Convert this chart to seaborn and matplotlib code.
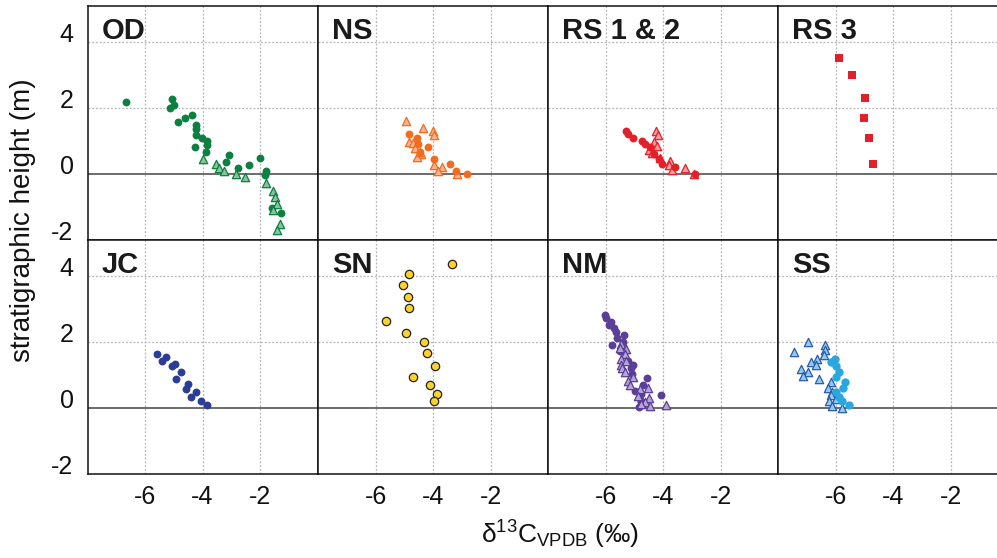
import matplotlib
matplotlib.use("Agg")
import matplotlib.pyplot as plt
import seaborn as sns
import pandas as pd

sns.set_style("white")
plt.rcParams['font.family'] = ['Liberation Sans', 'DejaVu Sans']
plt.rcParams['mathtext.fontset'] = 'custom'
plt.rcParams['mathtext.rm'] = 'Liberation Sans'
plt.rcParams['mathtext.it'] = 'Liberation Sans:italic'
plt.rcParams['mathtext.bf'] = 'Liberation Sans:bold'

# ---------------- data (delta13C, stratigraphic height) ----------------
OD_circ_x = [-6.65, -5.05, -4.99, -5.12, -4.38, -4.61, -4.86, -4.23, -4.24, -4.24, -4.03, -3.86,
             -3.86, -3.88, -4.27, -3.08, -3.20, -2.77, -2.40, -1.99, -1.80, -1.82, -1.27, -1.58]
OD_circ_y = [2.19, 2.29, 2.09, 1.99, 1.80, 1.69, 1.58, 1.48, 1.36, 1.19, 1.10, 1.00,
             0.88, 0.68, 0.83, 0.59, 0.38, 0.18, 0.28, 0.49, 0.09, -0.02, -1.17, -1.02]
OD_tri_x = [-3.98, -3.54, -3.43, -3.24, -2.83, -2.53, -1.78, -1.55, -1.49, -1.42, -1.55, -1.29, -1.41]
OD_tri_y = [0.45, 0.30, 0.19, 0.09, 0.01, -0.09, -0.28, -0.51, -0.69, -0.90, -1.10, -1.50, -1.71]

NS_circ_x = [-4.83, -4.54, -4.52, -4.19, -4.46, -3.96, -3.40, -3.20, -2.82]
NS_circ_y = [1.21, 1.11, 0.91, 0.81, 0.68, 0.45, 0.30, 0.10, 0.00]
NS_tri_x = [-4.94, -4.34, -3.99, -3.98, -4.83, -4.69, -4.42, -4.54, -3.97, -3.70, -3.84, -3.18, -4.63, -4.45]
NS_tri_y = [1.61, 1.41, 1.31, 1.19, 0.98, 0.93, 0.61, 0.51, 0.29, 0.22, 0.09, 0.00, 0.78, 0.66]

RS12_circ_x = [-5.29, -5.21, -5.06, -4.72, -4.61, -4.46, -4.30, -4.14, -4.03, -3.59, -2.87]
RS12_circ_y = [1.31, 1.21, 1.11, 1.00, 0.91, 0.81, 0.61, 0.46, 0.32, 0.20, 0.00]
RS12_tri_x = [-4.26, -4.17, -4.31, -4.20, -4.49, -4.38, -4.11, -3.75, -3.80, -3.67, -3.24, -2.91]
RS12_tri_y = [1.31, 1.19, 0.98, 0.86, 0.73, 0.63, 0.48, 0.40, 0.27, 0.12, 0.19, 0.01]

RS3_sq_x = [-5.87, -5.44, -4.98, -5.01, -4.84, -4.69]
RS3_sq_y = [3.51, 3.02, 2.31, 1.71, 1.10, 0.30]

JC_circ_x = [-5.58, -5.26, -5.40, -4.97, -5.05, -4.74, -4.92, -4.50, -4.56, -4.24, -4.40, -4.06, -3.85]
JC_circ_y = [1.64, 1.54, 1.43, 1.33, 1.28, 1.08, 0.88, 0.73, 0.59, 0.50, 0.34, 0.23, 0.08]

SN_circ_x = [-3.35, -4.83, -5.04, -4.88, -4.83, -5.62, -4.94, -4.30, -4.20, -3.93, -4.70, -4.10, -3.87, -3.95]
SN_circ_y = [4.37, 4.06, 3.72, 3.38, 3.03, 2.63, 2.29, 1.99, 1.68, 1.29, 0.93, 0.69, 0.44, 0.20]

NM_circ_x = [-6.02, -5.99, -5.81, -5.87, -5.70, -5.62, -5.36, -5.59, -5.39, -5.79, -5.50, -5.23,
             -5.04, -5.13, -5.07, -4.56, -4.68, -4.98, -4.75, -4.08, -4.75, -4.83, -4.77]
NM_circ_y = [2.81, 2.72, 2.62, 2.52, 2.42, 2.32, 2.22, 2.12, 2.02, 1.92, 1.72, 1.44,
             1.32, 1.21, 1.03, 0.91, 0.71, 0.53, 0.42, 0.41, 0.22, 0.02, 0.17]
NM_tri_x = [-5.47, -5.27, -5.50, -5.33, -5.45, -5.27, -5.47, -5.42, -5.33, -5.04, -5.21, -5.15,
            -4.80, -4.52, -4.86, -4.49, -4.63, -4.46, -3.91, -4.75]
NM_tri_y = [1.94, 1.79, 1.81, 1.64, 1.49, 1.44, 1.31, 1.21, 1.08, 0.93, 0.83, 0.71,
            0.58, 0.61, 0.37, 0.30, 0.17, 0.07, 0.10, 0.12]

SS_circ_x = [-6.02, -6.14, -5.99, -5.88, -5.97, -5.66, -5.74, -5.97, -5.88, -5.79, -5.54]
SS_circ_y = [1.50, 1.40, 1.27, 1.09, 0.95, 0.78, 0.60, 0.48, 0.35, 0.20, 0.10]
SS_tri_x = [-7.46, -6.95, -6.35, -6.35, -6.39, -6.63, -6.84, -6.68, -7.20, -6.95, -7.13, -6.58,
            -6.14, -6.26, -6.12, -6.16, -5.97, -6.23, -6.12, -5.79]
SS_tri_y = [1.69, 1.99, 1.90, 1.77, 1.60, 1.50, 1.40, 1.30, 1.19, 1.09, 0.98, 0.88,
            0.80, 0.60, 0.50, 0.40, 0.29, 0.20, 0.07, -0.01]

panel_names = ["OD", "NS", "RS 1 & 2", "RS 3", "JC", "SN", "NM", "SS"]
x_ticks = [-6, -4, -2]
y_ticks = [-2, 0, 2, 4]

# ---------------- styles ----------------
GREEN, ORANGE, RED = "#0b8040", "#f26b21", "#e3202a"
NAVY, YELLOW, PURPLE, LBLUE = "#2b3d96", "#fbd22c", "#5a3e97", "#2aa7df"

# each layer: (x, y, marker, size, face, edge, lw)
layers = {
    "OD": [(OD_circ_x, OD_circ_y, "o", 32, GREEN, GREEN, 0),
           (OD_tri_x, OD_tri_y, "^", 36, "#86c29c", GREEN, 0.9)],
    "NS": [(NS_tri_x, NS_tri_y, "^", 36, "#f9b48f", ORANGE, 0.9),
           (NS_circ_x, NS_circ_y, "o", 32, ORANGE, ORANGE, 0)],
    "RS 1 & 2": [(RS12_tri_x, RS12_tri_y, "^", 36, "#f29a9c", RED, 0.9),
                 (RS12_circ_x, RS12_circ_y, "o", 32, RED, RED, 0)],
    "RS 3": [(RS3_sq_x, RS3_sq_y, "s", 32, RED, RED, 0)],
    "JC": [(JC_circ_x, JC_circ_y, "o", 32, NAVY, NAVY, 0)],
    "SN": [(SN_circ_x, SN_circ_y, "o", 36, YELLOW, "#222222", 0.9)],
    "NM": [(NM_circ_x, NM_circ_y, "o", 32, PURPLE, PURPLE, 0),
           (NM_tri_x, NM_tri_y, "^", 36, "#b4a6d4", PURPLE, 0.9)],
    "SS": [(SS_tri_x, SS_tri_y, "^", 36, "#8ecbef", "#2c5aa8", 0.9),
           (SS_circ_x, SS_circ_y, "o", 36, LBLUE, LBLUE, 0)],
}

# ---------------- figure ----------------
W, H = 997, 558
fig = plt.figure(figsize=(W / 100, H / 100), dpi=100)

col_left = [87.5, 318, 548, 778]
row_top = [6, 240]
pw, ph = 230, 234

for i, name in enumerate(panel_names):
    r, c = divmod(i, 4)
    l = col_left[c]
    t = row_top[r]
    ax = fig.add_axes([l / W, (H - t - ph) / H, pw / W, ph / H])
    ax.set_xlim(-8, 0)
    ax.set_ylim(-2, 5.1)
    for gx in x_ticks:
        ax.axvline(gx, color="#b5b5b5", lw=0.9, ls=(0, (1.5, 1.5)), zorder=0)
    for gy in [2, 4]:
        ax.axhline(gy, color="#b5b5b5", lw=0.9, ls=(0, (1.5, 1.5)), zorder=0)
    ax.axhline(0, color="#444444", lw=1.1, zorder=1)
    for lx, ly, mk, sz, fc, ec, lw in layers[name]:
        df = pd.DataFrame({"d13C": lx, "h": ly})
        sns.scatterplot(data=df, x="d13C", y="h", ax=ax, marker=mk, s=sz,
                        color=fc, edgecolor=ec, linewidth=lw, legend=False, zorder=3)
    ax.set_xlabel("")
    ax.set_ylabel("")
    ax.set_xticks(x_ticks)
    ax.set_yticks(y_ticks)
    ax.tick_params(length=0, labelsize=18, colors="#111111")
    ax.tick_params(axis="y", pad=10)
    ax.tick_params(axis="x", pad=8)
    if c != 0:
        ax.set_yticklabels([])
    else:
        ax.set_yticklabels([str(v) for v in y_ticks], va="baseline")
    if r != 1:
        ax.set_xticklabels([])
    else:
        ax.set_xticklabels([str(v) for v in x_ticks])
    for sp in ax.spines.values():
        sp.set_color("#111111")
        sp.set_linewidth(1.1)
    ax.text(0.06, 0.955, name, transform=ax.transAxes, ha="left", va="top",
            fontsize=21, fontweight="bold", color="#1a1a1a")

fig.text(23 / W, 1 - 220 / H, "stratigraphic height (m)", rotation=90,
         ha="center", va="center", fontsize=20, color="#111111")
fig.text(560 / W, 1 - 535 / H, "δ$^{13}$C$_{\\mathrm{VPDB}}$ (‰)",
         ha="center", va="center", fontsize=19, color="#111111")

fig.savefig("out.png", dpi=100)
